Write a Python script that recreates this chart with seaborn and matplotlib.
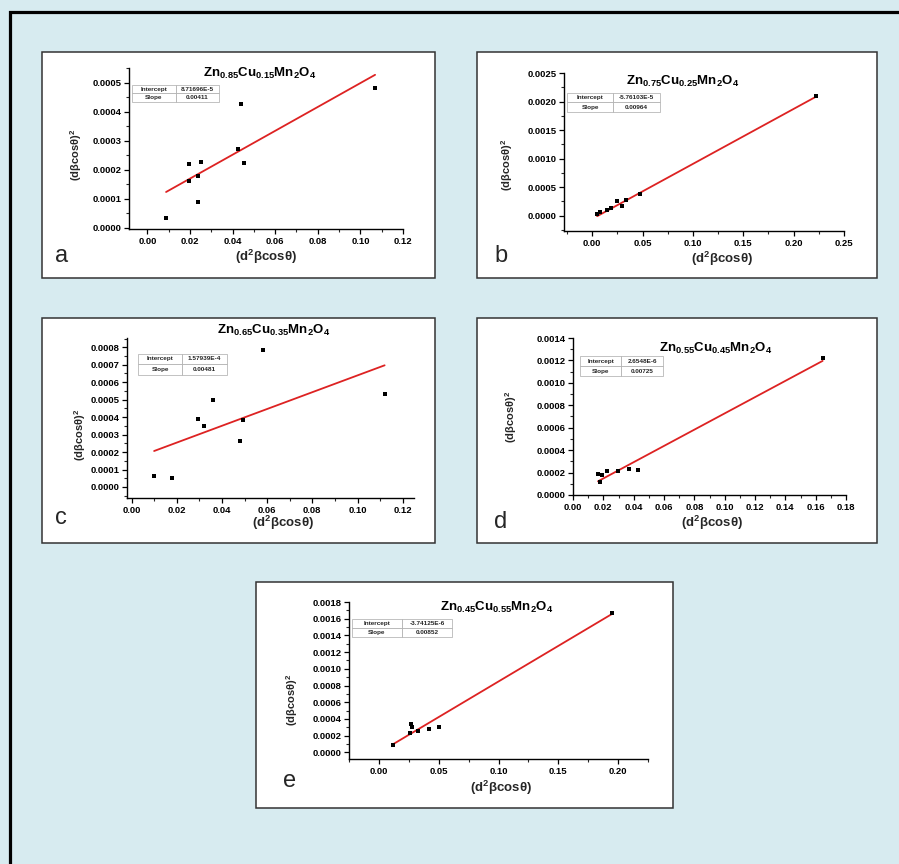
import numpy as np
import matplotlib
matplotlib.use('Agg')
import matplotlib.pyplot as plt
import seaborn as sns
from matplotlib.patches import Rectangle
from matplotlib.lines import Line2D
from matplotlib.ticker import AutoMinorLocator, FormatStrFormatter

# ---------------- data ----------------
panel_letters = ['a', 'b', 'c', 'd', 'e']
titles = [r'$Zn_{0.85}Cu_{0.15}Mn_2O_4$', r'$Zn_{0.75}Cu_{0.25}Mn_2O_4$',
          r'$Zn_{0.65}Cu_{0.35}Mn_2O_4$', r'$Zn_{0.55}Cu_{0.45}Mn_2O_4$',
          r'$Zn_{0.45}Cu_{0.55}Mn_2O_4$']

x_a = [0.0088, 0.0197, 0.0197, 0.0236, 0.0236, 0.0252, 0.0425, 0.0439, 0.0452, 0.1069]
y_a = [0.000035, 0.000221, 0.000162, 0.000179, 0.000088, 0.000227, 0.000273, 0.000427, 0.000224, 0.000482]

x_b = [0.0049, 0.0082, 0.0148, 0.0188, 0.0244, 0.0296, 0.0336, 0.0478, 0.2223]
y_b = [0.00003, 0.00006, 0.000095, 0.000135, 0.000258, 0.000165, 0.00028, 0.000386, 0.0021]

x_c = [0.0100, 0.0178, 0.0294, 0.0319, 0.0359, 0.0479, 0.0494, 0.0584, 0.1120]
y_c = [0.000061, 0.000054, 0.000391, 0.000349, 0.000500, 0.000262, 0.000386, 0.000785, 0.000535]

x_d = [0.0165, 0.0176, 0.0194, 0.0227, 0.0297, 0.0370, 0.0430, 0.1646]
y_d = [0.000191, 0.000113, 0.000176, 0.000214, 0.000217, 0.000229, 0.000223, 0.001224]

x_e = [0.0120, 0.0259, 0.0267, 0.0279, 0.0329, 0.0418, 0.0501, 0.1950]
y_e = [0.000093, 0.000234, 0.000342, 0.000306, 0.000254, 0.000282, 0.000298, 0.00167]

intercepts = [8.71696e-5, -5.76103e-5, 1.57939e-4, 2.6548e-6, -3.74125e-6]
slopes = [0.00411, 0.00964, 0.00481, 0.00725, 0.00852]
intercept_labels = ['8.71696E-5', '-5.76103E-5', '1.57939E-4', '2.6548E-6', '-3.74125E-6']
slope_labels = ['0.00411', '0.00964', '0.00481', '0.00725', '0.00852']

xticks_list = [[0.00, 0.02, 0.04, 0.06, 0.08, 0.10, 0.12],
               [0.00, 0.05, 0.10, 0.15, 0.20, 0.25],
               [0.00, 0.02, 0.04, 0.06, 0.08, 0.10, 0.12],
               [0.00, 0.02, 0.04, 0.06, 0.08, 0.10, 0.12, 0.14, 0.16, 0.18],
               [0.00, 0.05, 0.10, 0.15, 0.20]]
yticks_list = [[0.0000, 0.0001, 0.0002, 0.0003, 0.0004, 0.0005],
               [0.0000, 0.0005, 0.0010, 0.0015, 0.0020, 0.0025],
               [0.0000, 0.0001, 0.0002, 0.0003, 0.0004, 0.0005, 0.0006, 0.0007, 0.0008],
               [0.0000, 0.0002, 0.0004, 0.0006, 0.0008, 0.0010, 0.0012, 0.0014],
               [0.0000, 0.0002, 0.0004, 0.0006, 0.0008, 0.0010, 0.0012, 0.0014, 0.0016, 0.0018]]

xs = [x_a, x_b, x_c, x_d, x_e]
ys = [y_a, y_b, y_c, y_d, y_e]

# ---------------- layout (pixels) ----------------
W, H = 899, 864
layout = [
    dict(box=(42, 52, 435, 278), ax=(129, 68, 403, 229), xlim=(-0.0086, 0.12), ylim=(-0.000004, 0.00055),
         table=[0.01, 0.79, 0.32, 0.104], title=(0.478, 0.967), letter=(55, 262), ylab=(76, 155), xlab=(266, 257)),
    dict(box=(477, 52, 877, 278), ax=(564, 73, 844, 231), xlim=(-0.028, 0.25), ylim=(-0.00027, 0.0025),
         table=[0.01, 0.755, 0.333, 0.117], title=(0.423, 0.945), letter=(494, 262), ylab=(507, 165), xlab=(722, 259)),
    dict(box=(42, 318, 435, 543), ax=(127, 338, 414, 498), xlim=(-0.002, 0.125), ylim=(-0.000063, 0.000853),
         table=[0.039, 0.771, 0.308, 0.131], title=(0.51, 1.048), letter=(55, 524), ylab=(80, 435), xlab=(283, 523)),
    dict(box=(477, 318, 877, 543), ax=(573, 338, 846, 495), xlim=(0.0, 0.18), ylim=(0.0, 0.0014),
         table=[0.0246, 0.755, 0.306, 0.128], title=(0.523, 0.936), letter=(494, 528), ylab=(511, 417), xlab=(712, 523)),
    dict(box=(256, 582, 673, 808), ax=(349, 602, 648, 759), xlim=(-0.025, 0.225), ylim=(-0.00008, 0.0018),
         table=[0.01, 0.7775, 0.334, 0.1125], title=(0.495, 0.968), letter=(283, 787), ylab=(292, 700), xlab=(501, 788)),
]

sns.set_style('ticks')
plt.rcParams['font.family'] = ['Liberation Sans', 'DejaVu Sans']
plt.rcParams['mathtext.fontset'] = 'custom'
plt.rcParams['mathtext.rm'] = 'Liberation Sans:bold'
plt.rcParams['mathtext.bf'] = 'Liberation Sans:bold'
plt.rcParams['mathtext.it'] = 'Liberation Sans:bold'
plt.rcParams['mathtext.default'] = 'bf'

BG = '#d7ebf0'
fig = plt.figure(figsize=(W / 100, H / 100), dpi=100, facecolor=BG)

def fx(px):
    return px / W

def fy(py):
    return 1 - py / H

# outer frame (only top and left visible)
fig.add_artist(Line2D([fx(9.5), fx(9.5), fx(905)], [fy(870), fy(11.5), fy(11.5)],
                      transform=fig.transFigure, color='black', lw=2.3, solid_joinstyle='miter'))

rect_marker = [(-1.5, -1), (1.5, -1), (1.5, 1), (-1.5, 1)]

for i, L in enumerate(layout):
    l, t, r, b = L['box']
    fig.add_artist(Rectangle((fx(l), fy(b)), (r - l) / W, (b - t) / H, transform=fig.transFigure,
                             facecolor='white', edgecolor='#333333', lw=1.1, zorder=0))
    al, at, ar, ab = L['ax']
    ax = fig.add_axes([fx(al), fy(ab), (ar - al) / W, (ab - at) / H])
    ax.set_facecolor('none')

    x = np.array(xs[i])
    y = np.array(ys[i])
    sns.scatterplot(x=x, y=y, ax=ax, marker=rect_marker, s=12, color='black', linewidth=0, zorder=3)
    xl = np.array([x.min(), x.max()])
    sns.lineplot(x=xl, y=intercepts[i] + slopes[i] * xl, ax=ax, color='#dd2222', lw=1.3, zorder=2)

    ax.set_xlim(*L['xlim'])
    ax.set_ylim(*L['ylim'])
    ax.set_xticks(xticks_list[i])
    ax.set_yticks(yticks_list[i])
    ax.xaxis.set_major_formatter(FormatStrFormatter('%.2f'))
    ax.yaxis.set_major_formatter(FormatStrFormatter('%.4f'))
    ax.xaxis.set_minor_locator(AutoMinorLocator(2))
    ax.yaxis.set_minor_locator(AutoMinorLocator(2))
    ax.tick_params(axis='both', which='major', direction='out', length=3.5, width=0.9,
                   labelsize=6.8, pad=2, colors='black')
    ax.tick_params(axis='both', which='minor', direction='out', length=2, width=0.8)
    for lab in ax.get_xticklabels() + ax.get_yticklabels():
        lab.set_fontweight('bold')
    sns.despine(ax=ax)
    for s in ['left', 'bottom']:
        ax.spines[s].set_linewidth(1.0)
        ax.spines[s].set_color('black')
    ax.set_xlabel('')
    ax.set_ylabel('')

    # title
    ax.text(L['title'][0], L['title'][1], titles[i], transform=ax.transAxes, ha='center', va='center',
            fontsize=9.5, color='black')

    # parameter table
    tbl = ax.table(cellText=[['Intercept', intercept_labels[i]], ['Slope', slope_labels[i]]],
                   cellLoc='center', bbox=L['table'])
    tbl.auto_set_font_size(False)
    tbl.set_fontsize(4.6)
    for (rr, cc), cell in tbl.get_celld().items():
        cell.set_edgecolor('#aaaaaa')
        cell.set_linewidth(0.5)
        cell.set_facecolor('white')
        cell.get_text().set_fontweight('bold')
    tbl.set_zorder(4)

    # axis labels
    fig.text(fx(L['ylab'][0]), fy(L['ylab'][1]), r'$(d\beta cos\theta)^2$', rotation=90,
             ha='center', va='center', fontsize=8)
    fig.text(fx(L['xlab'][0]), fy(L['xlab'][1]), r'$(d^2\beta cos\theta)$',
             ha='center', va='center', fontsize=9.5)
    # panel letter
    fig.text(fx(L['letter'][0]), fy(L['letter'][1]), panel_letters[i], ha='left', va='baseline',
             fontsize=17, family=['Liberation Sans Narrow', 'Liberation Sans', 'DejaVu Sans'])

fig.savefig('out.png', dpi=100, facecolor=BG)
